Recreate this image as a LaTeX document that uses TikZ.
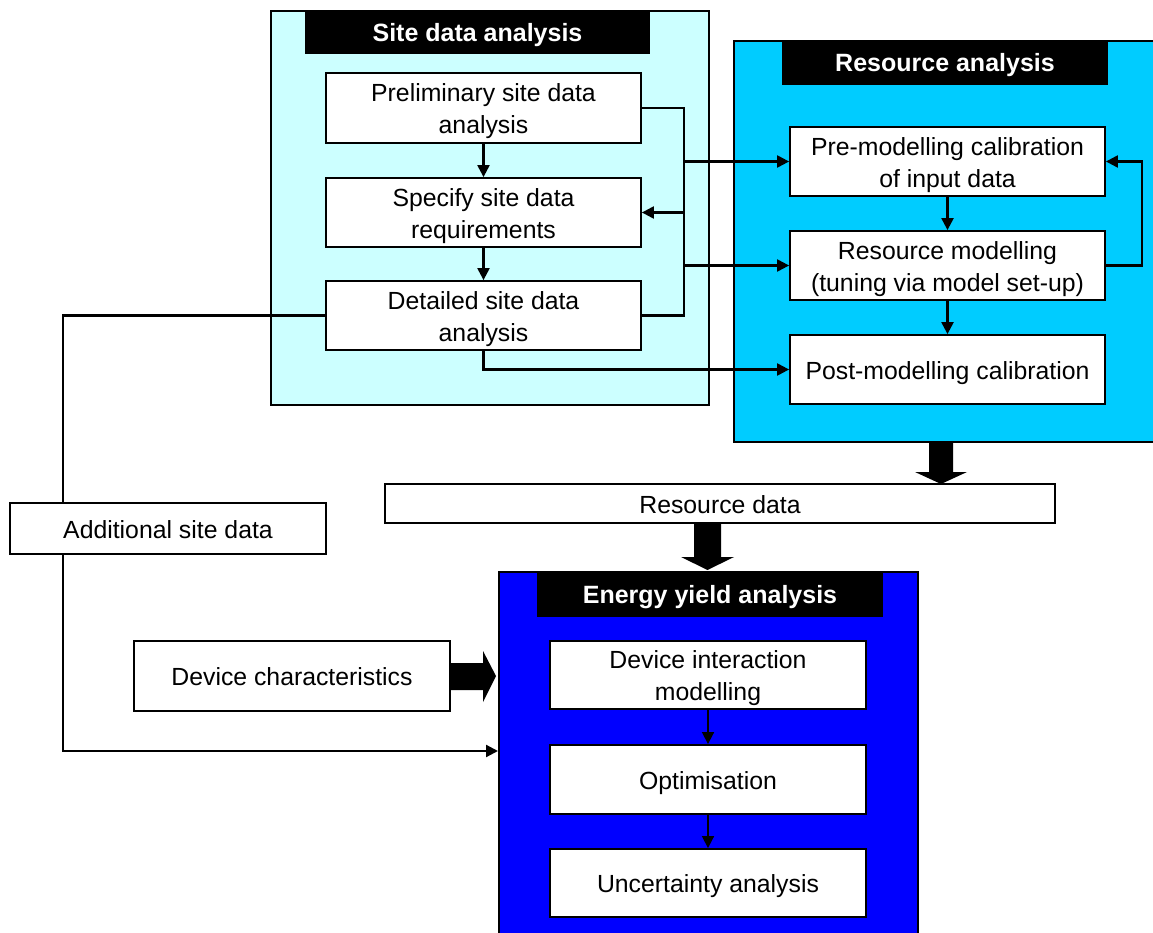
\documentclass[tikz,border=0pt]{standalone}
\usepackage{fontspec}
\setmainfont{Liberation Sans}
\usetikzlibrary{arrows.meta,calc}
\definecolor{sitecol}{HTML}{CCFFFF}
\definecolor{rescol}{HTML}{00CCFF}
\definecolor{encol}{HTML}{0000FF}
\newsavebox\lblbox
\newcommand\lbl[1]{\sbox\lblbox{\begin{tabular}{@{}c@{}}#1\end{tabular}}\raisebox{-3.5pt}[\ht\lblbox][\dp\lblbox]{\usebox\lblbox}}
\tikzset{
 box/.style={draw=black, fill=white, line width=1.8pt, minimum width=315pt, align=center, inner sep=0pt, font=\fontsize{24.8}{32}\selectfont},
 panel/.style={draw=black, line width=2pt, anchor=north west, inner sep=0pt},
 titlebar/.style={fill=black, text=white, font=\fontsize{25}{28}\selectfont\bfseries, inner sep=0pt},
 arr/.style={-{Triangle[length=12pt,width=12pt]}, line width=2.2pt},
 conn/.style={line width=2.2pt},
 block/.style={fill=black}
}
\begin{document}
\begin{tikzpicture}[x=1pt,y=-1pt]
\useasboundingbox (0,0) rectangle (1153,933);
% panels
\node[panel, fill=sitecol, minimum width=438pt, minimum height=394pt] (sitepanel) at (270,10) {};
\node[panel, fill=rescol, minimum width=440pt, minimum height=401pt] (respanel) at (733,40) {};
\node[panel, fill=encol, minimum width=419pt, minimum height=380pt] (enpanel) at (498,571) {};
% titles
\node[titlebar, minimum width=345pt, minimum height=44pt] (sitetitle) at (477.5,32) {\lbl{Site data analysis}};
\node[titlebar, minimum width=326pt, minimum height=45pt] (restitle) at (945,62.5) {\lbl{Resource analysis}};
\node[titlebar, minimum width=346pt, minimum height=46pt] (entitle) at (710,594) {\lbl{Energy yield analysis}};
% site boxes
\node[box, minimum height=70pt] (prelim) at (483.5,108) {\lbl{Preliminary site data\\analysis}};
\node[box, minimum height=69pt] (specify) at (483.5,212.5) {\lbl{Specify site data\\requirements}};
\node[box, minimum height=69pt] (detailed) at (483.5,315.5) {\lbl{Detailed site data\\analysis}};
% resource boxes
\node[box, minimum height=69pt] (pre) at (947.5,161.5) {\lbl{Pre-modelling calibration\\of input data}};
\node[box, minimum height=69pt] (resmod) at (947.5,265.5) {\lbl{Resource modelling\\(tuning via model set-up)}};
\node[box, minimum height=69pt] (post) at (947.5,369.5) {\lbl{Post-modelling calibration}};
% energy boxes
\node[box, minimum width=316pt, minimum height=68pt] (devint) at (708,675) {\lbl{Device interaction\\modelling}};
\node[box, minimum width=316pt, minimum height=69pt] (optim) at (708,779.5) {\lbl{Optimisation}};
\node[box, minimum width=316pt, minimum height=68pt] (uncert) at (708,883) {\lbl{Uncertainty analysis}};
% other boxes
\node[box, minimum width=316pt, minimum height=51pt] (addl) at (168,528.5) {\lbl{Additional site data}};
\node[box, minimum width=316pt, minimum height=70pt] (devchar) at (292,676) {\lbl{Device characteristics}};
\node[box, minimum width=670pt, minimum height=39pt] (resdata) at (720,503.5) {\lbl{Resource data}};
% site connectors
\draw[arr] (prelim.south) -- (specify.north);
\draw[arr] (specify.south) -- (detailed.north);
\coordinate (busT) at (684,108);
\coordinate (busB) at (684,315.5);
\draw[conn] (prelim.east) -- (busT) -- (busB) -- (detailed.east);
\draw[arr] (busT |- pre.west) -- (pre.west);
\draw[arr] (busT |- specify.east) -- (specify.east);
\draw[arr] (busT |- resmod.west) -- (resmod.west);
\draw[arr] (detailed.south) |- (post.west);
% resource connectors
\draw[arr] (pre.south) -- (resmod.north);
\draw[arr] (resmod.south) -- (post.north);
\coordinate (fb) at (1142,265.5);
\draw[arr] (resmod.east) -- (fb) |- (pre.east);
% energy connectors
\draw[arr, line width=1.6pt] (devint.south) -- (optim.north);
\draw[arr, line width=1.6pt] (optim.south) -- (uncert.north);
% left path
\coordinate (lx) at (63,315.5);
\coordinate (ein) at (498,751);
\draw[conn] (detailed.west) -- (lx) -- (lx |- addl.north);
\draw[arr] (lx |- addl.south) |- (ein);
% block arrows
\fill[block] (929,441) -- (953,441) -- (953,472) -- (967,472) -- (941,484) -- (915,472) -- (929,472) -- cycle;
\fill[block] (694,523) -- (721,523) -- (721,557) -- (734,557) -- (707.5,570) -- (681,557) -- (694,557) -- cycle;
\fill[block] (450,663) -- (483,663) -- (483,651) -- (496,676) -- (483,702) -- (483,690) -- (450,690) -- cycle;
\end{tikzpicture}
\end{document}
